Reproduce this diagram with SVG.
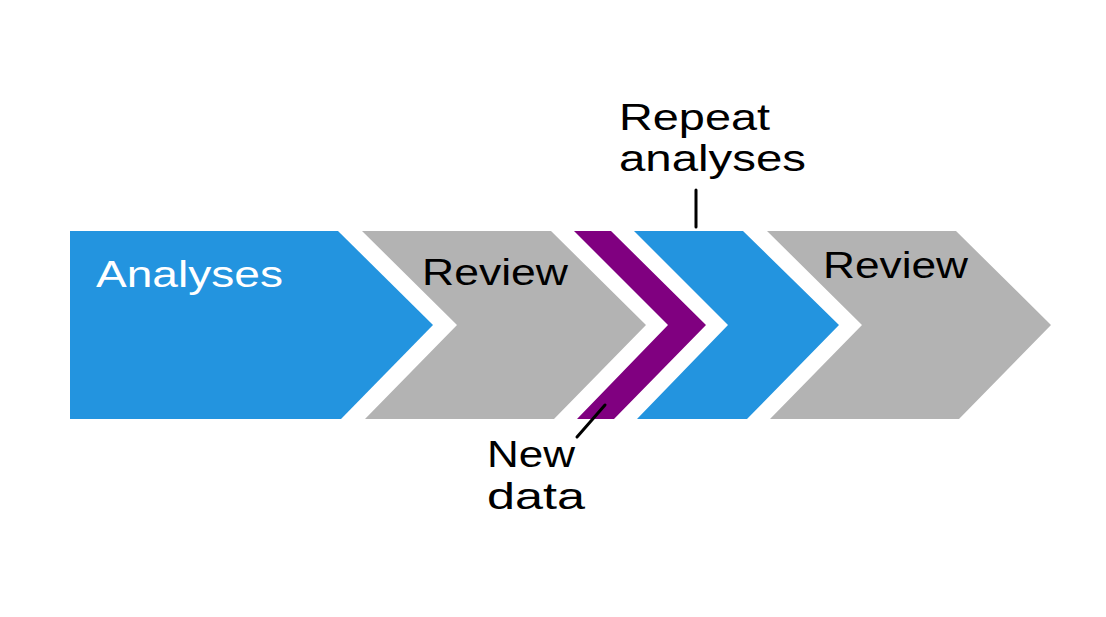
<svg xmlns="http://www.w3.org/2000/svg" width="1106" height="617" viewBox="0 0 1106 617">
<style>
.blue{fill:#2394DF}
.grey{fill:#B3B3B3}
.purple{fill:#800080}
text{font-family:"Liberation Sans",Arial,sans-serif;font-size:36px;fill:#000}
.w{fill:#fff}
.lead{stroke:#000;stroke-width:3;fill:none;stroke-linecap:round}
</style>
<rect width="1106" height="617" fill="#fff"/>
<g id="analyses">
<polygon class="blue" points="70,231 338,231 433,325 341,419 70,419"/>
<text class="w" x="96" y="287" textLength="187" lengthAdjust="spacingAndGlyphs">Analyses</text>
</g>
<g id="review1">
<polygon class="grey" points="362,231 551,231 646,325 554,419 365,419 457,325"/>
<text x="422" y="285" textLength="146" lengthAdjust="spacingAndGlyphs">Review</text>
</g>
<g id="newdata">
<polygon class="purple" points="574,231 611,231 706,325 614,419 577,419 668,325"/>
<text x="487" y="467" textLength="88" lengthAdjust="spacingAndGlyphs">New</text>
<text x="487" y="509" textLength="98" lengthAdjust="spacingAndGlyphs">data</text>
</g>
<g id="repeat">
<polygon class="blue" points="634,231 743,231 839,325 747,419 637,419 728,325"/>
<text x="619" y="130" textLength="151" lengthAdjust="spacingAndGlyphs">Repeat</text>
<text x="619" y="171" textLength="187" lengthAdjust="spacingAndGlyphs">analyses</text>
</g>
<g id="review2">
<polygon class="grey" points="767,231 956,231 1051,325 959,419 770,419 862,325"/>
<text x="823" y="278" textLength="145" lengthAdjust="spacingAndGlyphs">Review</text>
</g>
<g id="connectors">
<line class="lead" x1="696" y1="190" x2="696" y2="227"/>
<line class="lead" x1="605" y1="405" x2="577" y2="437"/>
</g>
</svg>
